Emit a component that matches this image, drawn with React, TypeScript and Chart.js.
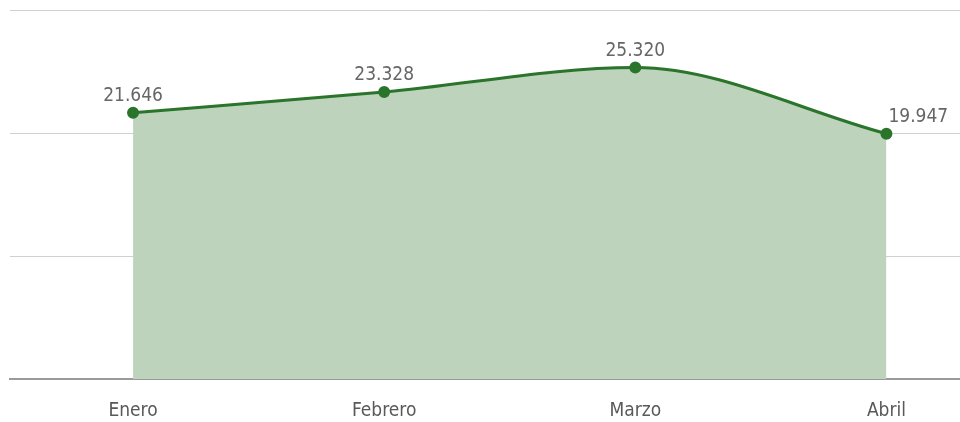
import React, { useEffect, useRef } from "react";
import { Chart, registerables } from "chart.js";

Chart.register(...registerables);

const months = ["Enero", "Febrero", "Marzo", "Abril"];
const values = [21646, 23328, 25320, 19947];
const valueLabels = ["21.646", "23.328", "25.320", "19.947"];
const yTicks = [0, 10000, 20000, 30000];

const LINE = "#2b742b";
const FILL = "#bdd3bc";
const FONT = "'Liberation Sans Narrow', 'DejaVu Sans Condensed', 'Noto Sans', sans-serif";

const labelPlugin = {
  id: "valueLabels",
  afterDatasetsDraw(chart: any) {
    const ctx = chart.ctx;
    const meta = chart.getDatasetMeta(0);
    ctx.save();
    ctx.font = `19px ${FONT}`;
    ctx.fillStyle = "#666666";
    ctx.textBaseline = "alphabetic";
    meta.data.forEach((pt: any, i: number) => {
      const last = i === meta.data.length - 1;
      ctx.textAlign = last ? "left" : "center";
      ctx.fillText(valueLabels[i], last ? pt.x + 2 : pt.x, pt.y - 12);
    });
    ctx.restore();
  },
};

export default function App() {
  const ref = useRef<HTMLCanvasElement | null>(null);
  useEffect(() => {
    if (!ref.current) return;
    const chart = new Chart(ref.current, {
      type: "line",
      data: {
        datasets: [
          {
            data: values.map((v, i) => ({ x: i, y: v })),
            borderColor: LINE,
            backgroundColor: FILL,
            fill: "origin",
            borderWidth: 3,
            pointRadius: 4.5,
            pointBackgroundColor: LINE,
            pointBorderColor: LINE,
            cubicInterpolationMode: "monotone",
          },
        ],
      },
      options: {
        animation: false,
        responsive: false,
        maintainAspectRatio: false,
        layout: { padding: { left: 10, top: 10, right: 0, bottom: 0 } },
        plugins: { legend: { display: false }, tooltip: { enabled: false } },
        scales: {
          x: {
            type: "linear",
            min: -0.49,
            max: 3.295,
            afterBuildTicks: (axis: any) => {
              axis.ticks = months.map((_, i) => ({ value: i }));
            },
            afterFit: (axis: any) => {
              axis.height = 43;
              axis.paddingLeft = 0;
              axis.paddingRight = 0;
            },
            ticks: {
              callback: (v: any) => months[v] ?? "",
              color: "#595959",
              font: { family: FONT, size: 19 },
              padding: 21,
              autoSkip: false,
              maxRotation: 0,
            },
            grid: { display: false, drawTicks: false },
            border: { display: true, color: "#9a9a9a", width: 2 },
          },
          y: {
            min: 0,
            max: 30000,
            afterBuildTicks: (axis: any) => {
              axis.ticks = yTicks.map((v) => ({ value: v }));
            },
            afterFit: (axis: any) => {
              axis.width = 0;
              axis.paddingTop = 0;
              axis.paddingBottom = 0;
            },
            ticks: { display: false },
            grid: { color: "#d0d0d0", lineWidth: 1, drawTicks: false },
            border: { display: false },
          },
        },
      },
      plugins: [labelPlugin],
    } as any);
    return () => chart.destroy();
  }, []);
  return (
    <div style={{ position: "fixed", left: 0, top: 0, width: 960, height: 422, overflow: "hidden", background: "#fff" }}>
      <canvas ref={ref} width={968} height={422} style={{ display: "block" }} />
    </div>
  );
}
